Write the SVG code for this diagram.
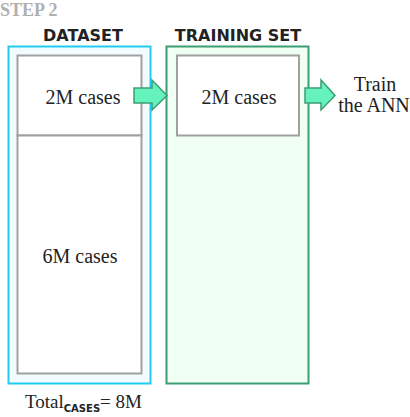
<svg xmlns="http://www.w3.org/2000/svg" width="410" height="417" viewBox="0 0 410 417">
<style>
.serif{font-family:"Liberation Serif","DejaVu Serif",serif;fill:#222}
.hdr{font-family:"DejaVu Sans","Liberation Sans",sans-serif;font-weight:bold;font-size:16px;fill:#222;text-anchor:middle}
.inner{fill:#ffffff;stroke:#a0a0a0;stroke-width:2}
.arrow{fill:#66f2bc;stroke:#3c9e72;stroke-width:1.5}
</style>
<rect width="410" height="417" fill="#ffffff"/>
<text x="0" y="16" font-family="Liberation Serif,serif" font-weight="bold" font-size="18" fill="#b0b0b0">STEP 2</text>
<g id="dataset">
<text class="hdr" x="83" y="41">DATASET</text>
<rect x="8.5" y="46.5" width="142" height="337" fill="#f2fcff" stroke="#22ccf0" stroke-width="2"/>
</g>
<g id="dataset-2m">
<rect class="inner" x="17.5" y="55.5" width="124" height="80"/>
<text class="serif" x="83" y="104" font-size="20" text-anchor="middle">2M cases</text>
</g>
<g id="dataset-6m">
<rect class="inner" x="17.5" y="135.5" width="124" height="238"/>
<text class="serif" x="80" y="263" font-size="20" text-anchor="middle">6M cases</text>
</g>
<g id="training">
<text class="hdr" x="238" y="41">TRAINING SET</text>
<rect x="166.5" y="46.5" width="142" height="337" fill="#f0fff4" stroke="#3c9e72" stroke-width="2"/>
</g>
<g id="training-2m">
<rect class="inner" x="177" y="55.5" width="122" height="80"/>
<text class="serif" x="239" y="104" font-size="20" text-anchor="middle">2M cases</text>
</g>
<g id="train-ann">
<text class="serif" x="375" y="91" font-size="20" text-anchor="middle">Train</text>
<text class="serif" x="374" y="112" font-size="20" text-anchor="middle">the ANN</text>
</g>
<g id="total">
<text class="serif" x="25" y="408" font-size="19">Total<tspan font-family="DejaVu Sans,sans-serif" font-weight="bold" font-size="10" dy="4">CASES</tspan><tspan dy="-4">= 8M</tspan></text>
</g>
<g id="connectors">
<polygon class="arrow" points="134,88 152,88 152,80 167,95.5 152,110 152,103 134,103"/>
<polygon class="arrow" points="305,88 321,88 321,80 335,95.5 321,110 321,103 305,103"/>
</g>
</svg>
